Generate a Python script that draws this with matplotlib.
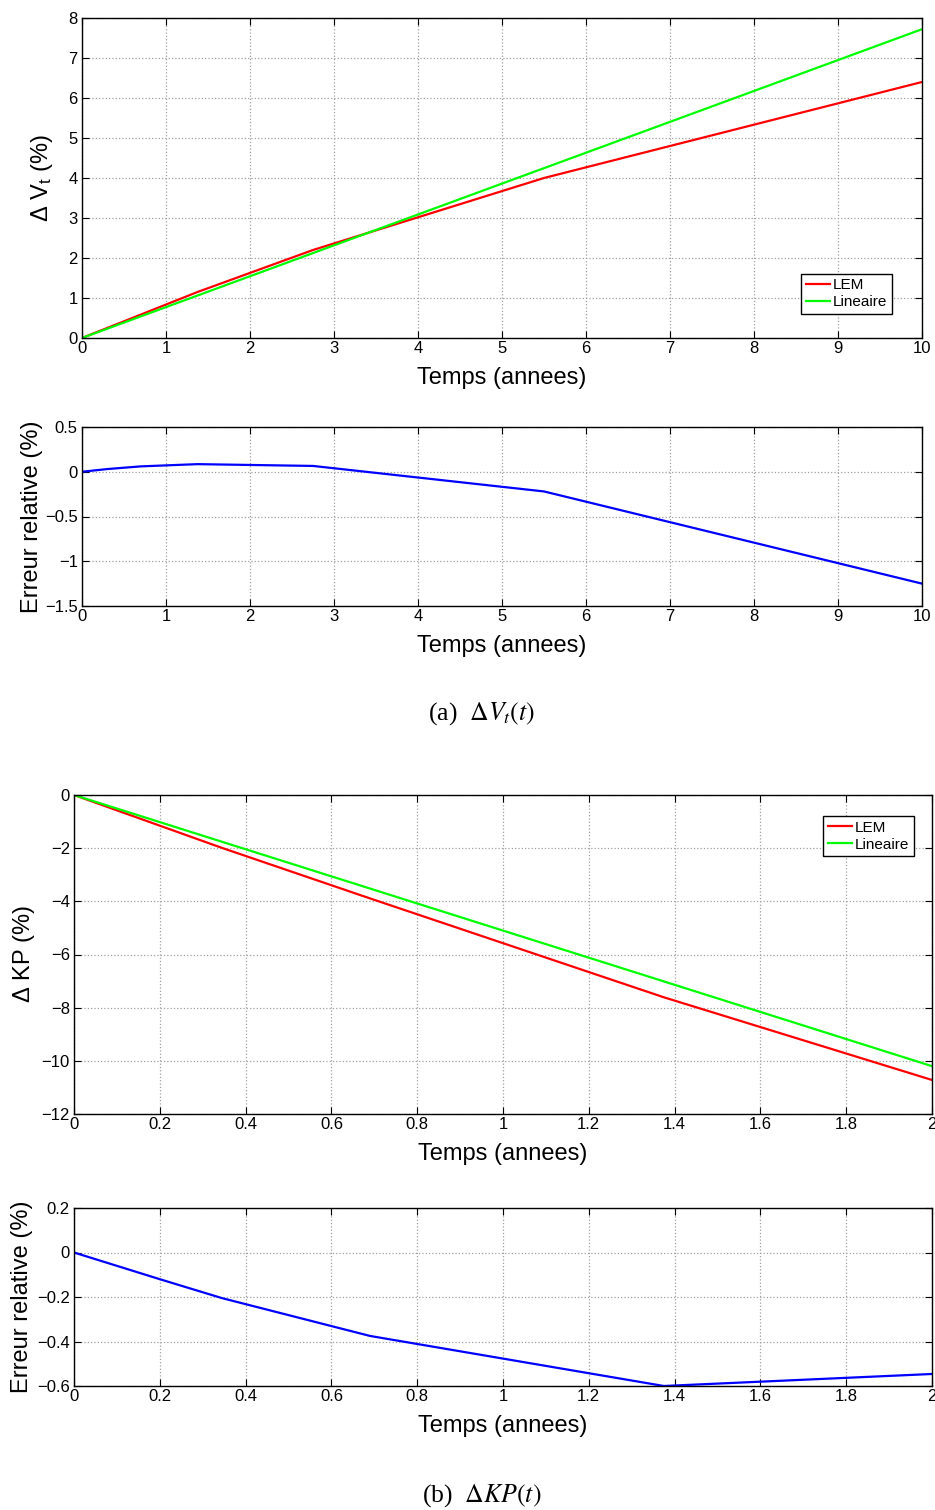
import matplotlib
matplotlib.use("Agg")
import matplotlib.pyplot as plt

plt.rcParams['font.family'] = ['Liberation Sans', 'DejaVu Sans']
plt.rcParams['mathtext.fontset'] = 'custom'
plt.rcParams['mathtext.rm'] = 'Liberation Sans'
plt.rcParams['mathtext.it'] = 'Liberation Sans:italic'
plt.rcParams['mathtext.bf'] = 'Liberation Sans:bold'

# (a) Delta V_t
t_a_lem = [0, 1.375, 2.75, 5.5, 10]
dv_lem = [0, 1.15, 2.2, 4.0, 6.4]
t_a_lin = [0, 10]
dv_lin = [0, 7.72]
t_a_err = [0, 0.3, 0.7, 1.375, 2.75, 5.5, 10]
err_a = [0, 0.03, 0.06, 0.085, 0.065, -0.22, -1.25]

# (b) Delta KP
t_b_lem = [0, 0.345, 0.69, 1.375, 2]
dkp_lem = [0, -1.99, -3.89, -7.61, -10.72]
t_b_lin = [0, 2]
dkp_lin = [0, -10.2]
t_b_err = [0, 0.2, 0.345, 0.69, 1.375, 2]
err_b = [0, -0.12, -0.205, -0.375, -0.6, -0.546]

W, H = 935, 1510
fig = plt.figure(figsize=(W / 100, H / 100), dpi=100)


def box(l, t, r, b):
    return [l / W, (H - b) / H, (r - l) / W, (b - t) / H]


def style(ax, ylab, ylab_x):
    ax.grid(True, linestyle=':', color='#a0a0a0', linewidth=0.9)
    ax.tick_params(direction='in', top=True, right=True, length=5,
                   labelsize=12, width=0.8)
    ax.tick_params(axis='x', pad=2)
    ax.tick_params(axis='y', pad=3)
    for s in ax.spines.values():
        s.set_linewidth(1.0)
    ax.set_xlabel('Temps (annees)', fontsize=17, labelpad=8)
    ax.set_ylabel(ylab, fontsize=17)
    ax.yaxis.set_label_coords(ylab_x, 0.5)


ax1 = fig.add_axes(box(82, 18, 922, 338))
ax1.plot(t_a_lem, dv_lem, color='#ff0000', lw=1.6, label='LEM')
ax1.plot(t_a_lin, dv_lin, color='#00ff00', lw=1.6, label='Lineaire')
ax1.set_xlim(0, 10)
ax1.set_ylim(0, 8)
ax1.set_xticks(range(0, 11))
ax1.set_yticks(range(0, 9))
style(ax1, r'$\Delta$ V$_{\rm t}$ (%)', -0.032)
ax1.legend(loc='lower right', bbox_to_anchor=(0.9643, 0.075), borderaxespad=0,
           fontsize=11, fancybox=False, framealpha=1, edgecolor='black',
           handlelength=1.6, handletextpad=0.2, labelspacing=0.2,
           borderpad=0.3).get_frame().set_linewidth(1.0)

ax2 = fig.add_axes(box(82, 427, 922, 606))
ax2.plot(t_a_err, err_a, color='#0000ff', lw=1.6)
ax2.set_xlim(0, 10)
ax2.set_ylim(-1.5, 0.5)
ax2.set_xticks(range(0, 11))
ax2.set_yticks([-1.5, -1, -0.5, 0, 0.5])
ax2.set_yticklabels(['\u22121.5', '\u22121', '\u22120.5', '0', '0.5'])
style(ax2, 'Erreur relative (%)', -0.046)

fig.text(482 / W, 1 - 714 / H, r'(a)  $\Delta V_t(t)$', fontsize=18.5,
         family='Liberation Serif', math_fontfamily='stix',
         ha='center', va='center')

ax3 = fig.add_axes(box(74, 795, 932, 1114))
ax3.plot(t_b_lem, dkp_lem, color='#ff0000', lw=1.6, label='LEM')
ax3.plot(t_b_lin, dkp_lin, color='#00ff00', lw=1.6, label='Lineaire')
ax3.set_xlim(0, 2)
ax3.set_ylim(-12, 0)
ax3.set_xticks([0, 0.2, 0.4, 0.6, 0.8, 1, 1.2, 1.4, 1.6, 1.8, 2])
ax3.set_xticklabels(['0', '0.2', '0.4', '0.6', '0.8', '1', '1.2', '1.4', '1.6', '1.8', '2'])
ax3.set_yticks(range(-12, 1, 2))
style(ax3, r'$\Delta$ KP (%)', -0.043)
ax3.legend(loc='upper right', bbox_to_anchor=(0.979, 0.934), borderaxespad=0,
           fontsize=11, fancybox=False, framealpha=1, edgecolor='black',
           handlelength=1.6, handletextpad=0.2, labelspacing=0.2,
           borderpad=0.3).get_frame().set_linewidth(1.0)

ax4 = fig.add_axes(box(74, 1208, 932, 1386))
ax4.plot(t_b_err, err_b, color='#0000ff', lw=1.6)
ax4.set_xlim(0, 2)
ax4.set_ylim(-0.6, 0.2)
ax4.set_xticks([0, 0.2, 0.4, 0.6, 0.8, 1, 1.2, 1.4, 1.6, 1.8, 2])
ax4.set_xticklabels(['0', '0.2', '0.4', '0.6', '0.8', '1', '1.2', '1.4', '1.6', '1.8', '2'])
ax4.set_yticks([-0.6, -0.4, -0.2, 0, 0.2])
ax4.set_yticklabels(['\u22120.6', '\u22120.4', '\u22120.2', '0', '0.2'])
style(ax4, 'Erreur relative (%)', -0.048)

fig.text(482 / W, 1 - 1496 / H, r'(b)  $\Delta KP(t)$', fontsize=18.5,
         family='Liberation Serif', math_fontfamily='stix',
         ha='center', va='center')

fig.savefig('out.png', dpi=100)
